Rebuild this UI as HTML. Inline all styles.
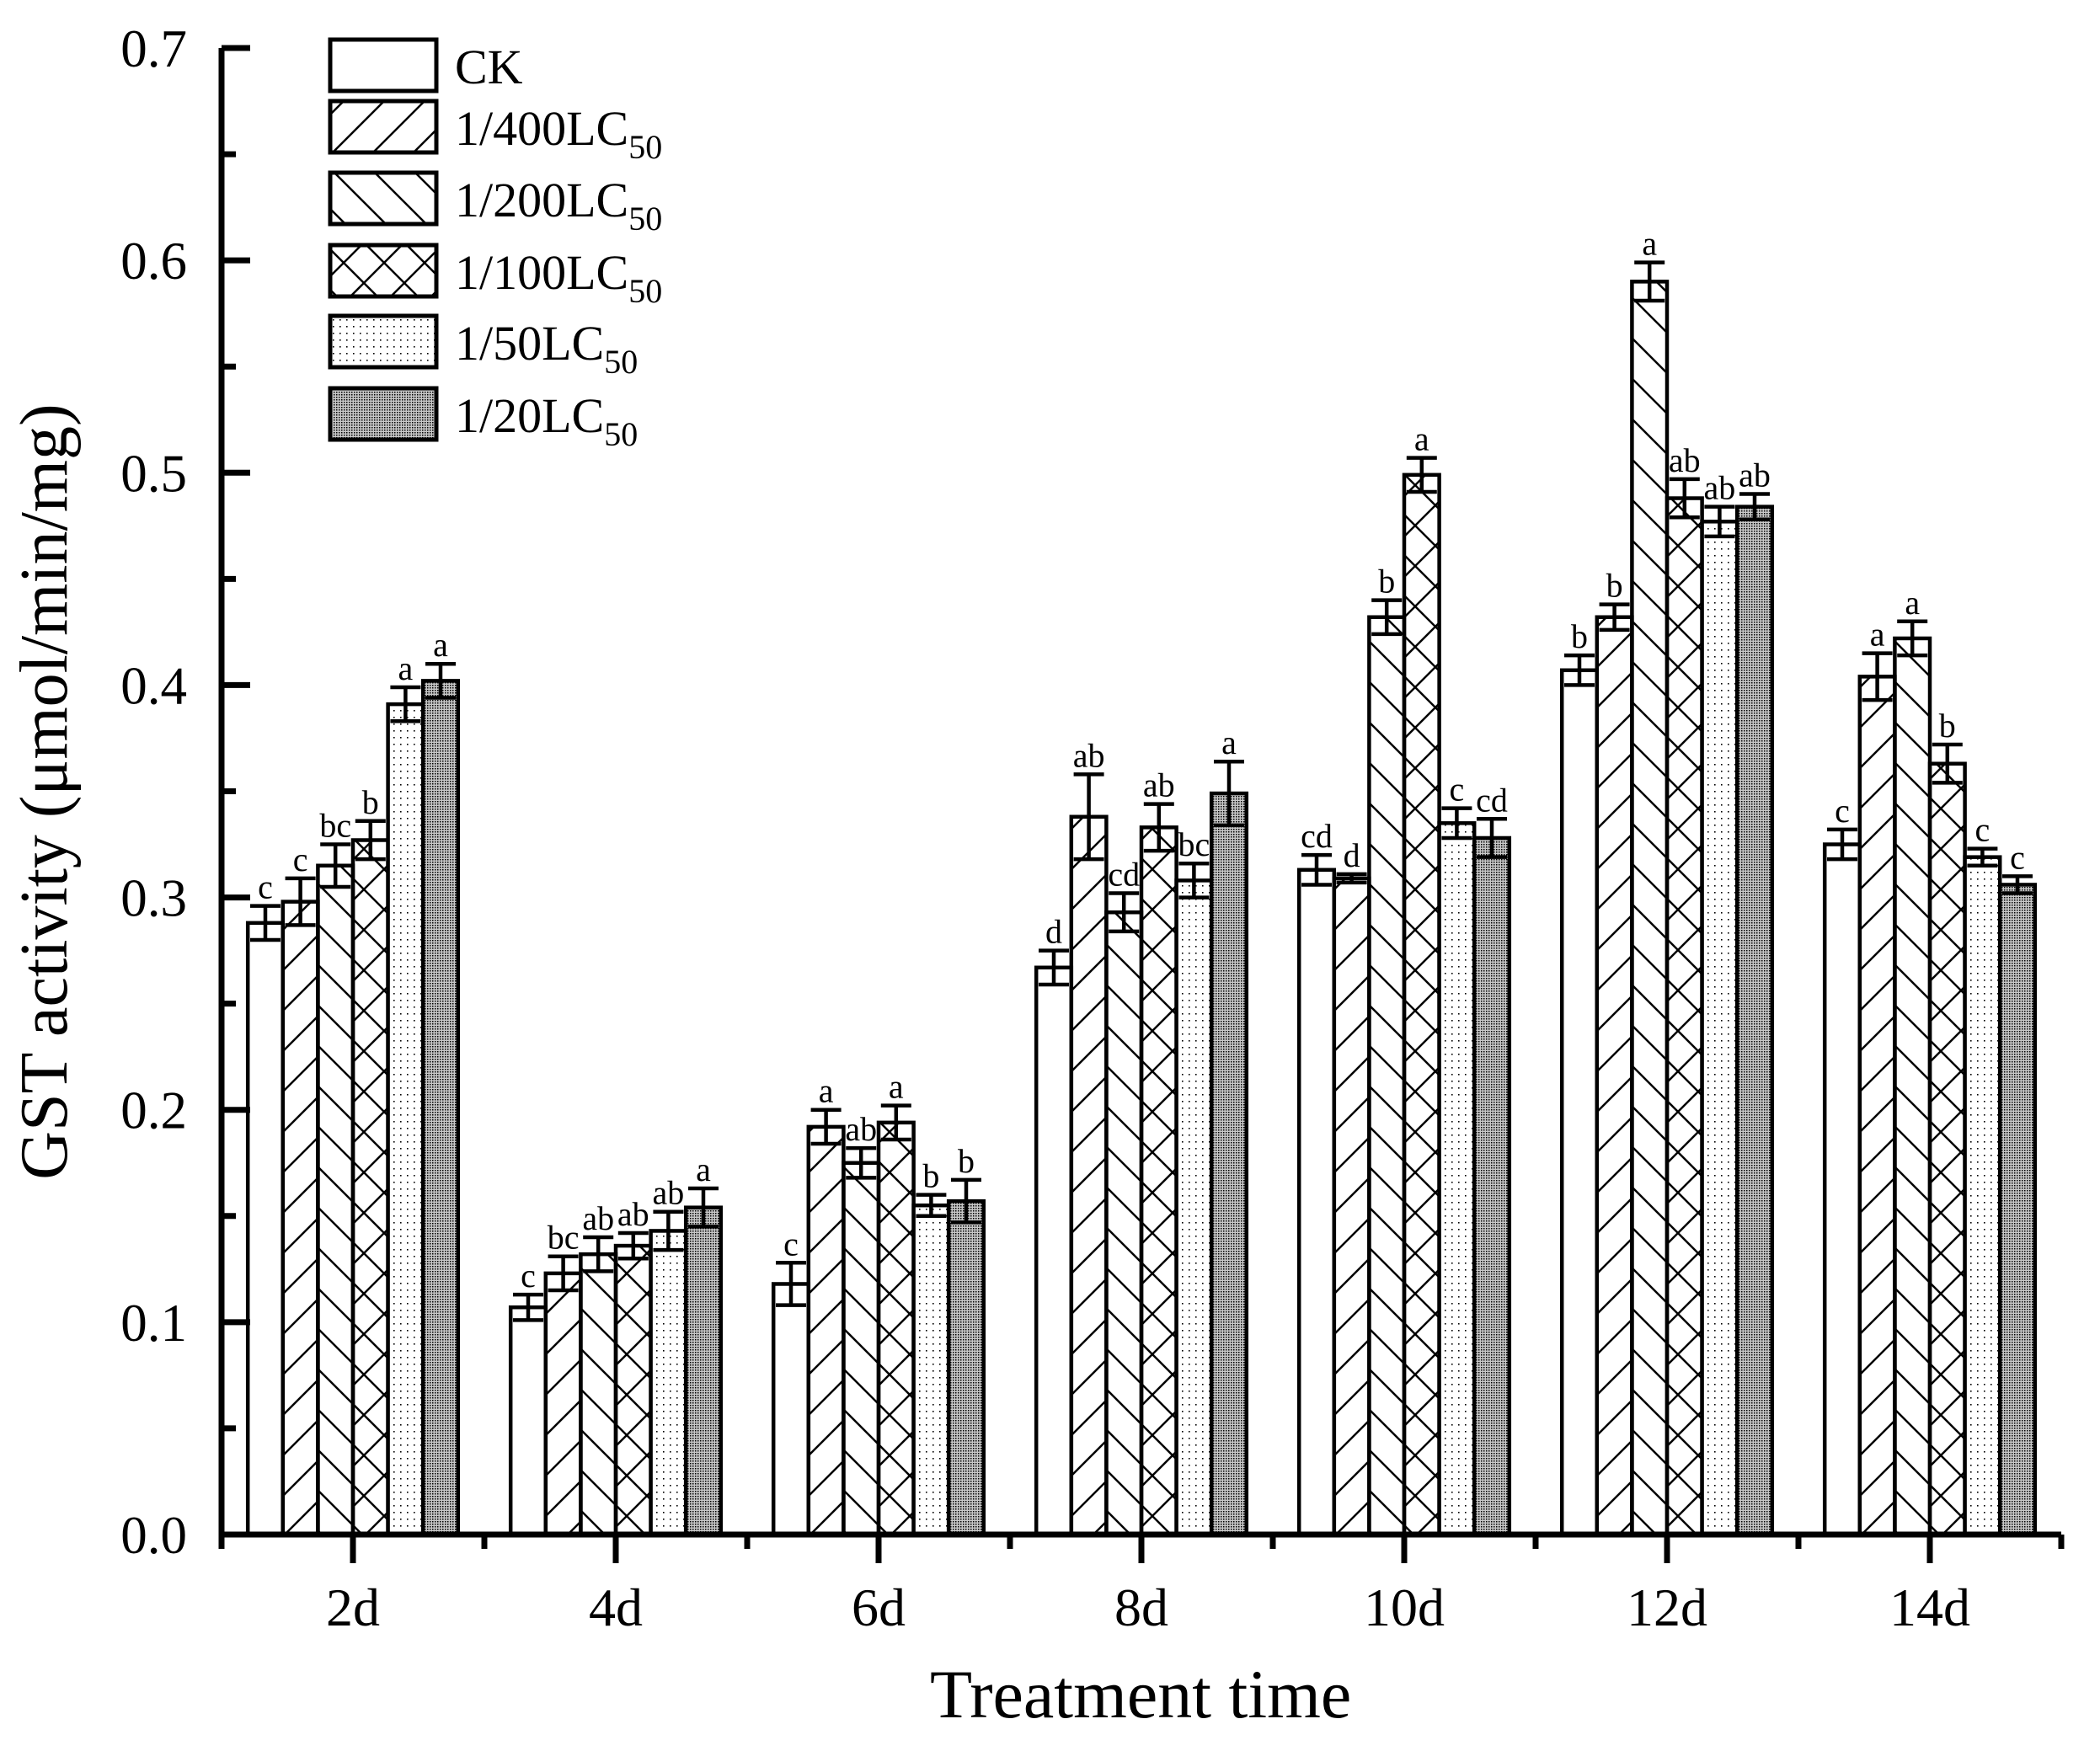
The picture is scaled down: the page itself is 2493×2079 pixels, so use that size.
<!DOCTYPE html>
<html><head><meta charset="utf-8"><style>
html,body{margin:0;padding:0;background:#fff}
svg{display:block;font-family:"Liberation Serif",serif}
</style></head><body>
<svg id="chart" width="2493" height="2079" viewBox="0 0 2493 2079" xmlns="http://www.w3.org/2000/svg">
<defs>
<pattern id="p400" patternUnits="userSpaceOnUse" width="48" height="48"><path d="M-12,12 L12,-12 M0,48 L48,0 M36,60 L60,36" stroke="#000" stroke-width="2.5"/></pattern>
<pattern id="p200" patternUnits="userSpaceOnUse" width="48" height="48"><path d="M-12,36 L12,60 M0,0 L48,48 M36,-12 L60,12" stroke="#000" stroke-width="2.5"/></pattern>
<pattern id="p100" patternUnits="userSpaceOnUse" width="48" height="48"><path d="M-12,12 L12,-12 M0,48 L48,0 M36,60 L60,36 M-12,36 L12,60 M0,0 L48,48 M36,-12 L60,12" stroke="#000" stroke-width="2.5"/></pattern>
<pattern id="p50" patternUnits="userSpaceOnUse" width="8" height="8"><rect width="8" height="8" fill="#fff"/><rect x="3" y="3" width="1.6" height="1.6" fill="#000"/></pattern>
<pattern id="p20" patternUnits="userSpaceOnUse" width="3" height="3"><rect width="3" height="3" fill="#c8c8c8"/><rect x="0" y="0" width="1.5" height="1.5" fill="#000"/></pattern>
</defs>
<g id="bars"></g>
<g id="axes"></g>
<g id="legend"></g>
<text x="1104" y="2039" font-size="82">Treatment time</text>
<text transform="translate(79,940) rotate(-90)" text-anchor="middle" font-size="80">GST activity (μmol/min/mg)</text>
</svg>
<script>
const categories = ["2d","4d","6d","8d","10d","12d","14d"];
const seriesNames = ["CK","1/400LC","1/200LC","1/100LC","1/50LC","1/20LC"];
const seriesSub = ["","50","50","50","50","50"];
const valCK   = [0.288,0.107,0.118,0.267,0.313,0.407,0.325];
const val400  = [0.298,0.123,0.192,0.338,0.309,0.432,0.404];
const val200  = [0.315,0.132,0.175,0.293,0.432,0.590,0.422];
const val100  = [0.327,0.136,0.194,0.333,0.499,0.488,0.363];
const val50   = [0.391,0.143,0.155,0.308,0.335,0.477,0.319];
const val20   = [0.402,0.154,0.157,0.349,0.328,0.484,0.306];
const errCK   = [0.008,0.006,0.010,0.008,0.007,0.007,0.007];
const err400  = [0.011,0.008,0.008,0.020,0.002,0.006,0.011];
const err200  = [0.010,0.008,0.007,0.009,0.008,0.009,0.008];
const err100  = [0.009,0.006,0.008,0.011,0.008,0.009,0.009];
const err50   = [0.008,0.009,0.005,0.008,0.007,0.007,0.004];
const err20   = [0.008,0.009,0.010,0.015,0.009,0.006,0.004];
const letCK   = ["c","c","c","d","cd","b","c"];
const let400  = ["c","bc","a","ab","d","b","a"];
const let200  = ["bc","ab","ab","cd","b","a","a"];
const let100  = ["b","ab","a","ab","a","ab","b"];
const let50   = ["a","ab","b","bc","c","ab","c"];
const let20   = ["a","a","b","a","cd","ab","c"];
const yTicks = ["0.0","0.1","0.2","0.3","0.4","0.5","0.6","0.7"];

const values=[valCK,val400,val200,val100,val50,val20];
const errs=[errCK,err400,err200,err100,err50,err20];
const lets=[letCK,let400,let200,let100,let50,let20];
const fills=["#fff","url(#p400)","url(#p200)","url(#p100)","url(#p50)","url(#p20)"];
const NS="http://www.w3.org/2000/svg";
const X0=263, UNIT=312, Y0=1822, YTOP=57, YMAX=0.7;
function xPos(u){return X0+u*UNIT;}
function yPos(v){return Y0-(v/YMAX)*(Y0-YTOP);}
function mk(tag,attrs,parent){const e=document.createElementNS(NS,tag);for(const k in attrs)e.setAttribute(k,attrs[k]);parent.appendChild(e);return e;}
const bars=document.getElementById('bars'),axes=document.getElementById('axes'),legend=document.getElementById('legend');
const BW=UNIT*0.8/6;
categories.forEach((c,i)=>{
  const gx=xPos(i+0.5)-3*BW;
  for(let s=0;s<6;s++){
    const v=values[s][i],e=errs[s][i];
    const bx=gx+s*BW, cx=bx+BW/2;
    const r=mk('rect',{x:bx,y:yPos(v),width:BW,height:Y0-yPos(v),fill:fills[s],stroke:'#000','stroke-width':4.5},bars);
    
    
    const eb=mk('path',{d:`M${cx-18},${yPos(v+e)}H${cx+18}M${cx-18},${yPos(v-e)}H${cx+18}M${cx},${yPos(v+e)}V${yPos(v-e)}`,stroke:'#000','stroke-width':4.5,fill:'none'},bars);
    
    
    const t=mk('text',{x:cx,y:yPos(v+e)-9,'text-anchor':'middle','font-size':40},bars);
    t.textContent=lets[s][i];
    
    
  }
  const tk=mk('line',{x1:xPos(i+0.5),x2:xPos(i+0.5),y1:Y0,y2:Y0+34,stroke:'#000','stroke-width':7},axes);
  
  
  const lb=mk('text',{x:xPos(i+0.5),y:1930,'text-anchor':'middle','font-size':64},axes);
  lb.textContent=c;
  
  
});
for(let u=0;u<=categories.length;u++){
  const m=mk('line',{x1:xPos(u),x2:xPos(u),y1:Y0,y2:Y0+17,stroke:'#000','stroke-width':7},axes);
  
  
}
yTicks.forEach((t,i)=>{
  const v=parseFloat(t);
  const tk=mk('line',{x1:X0,x2:X0+34,y1:yPos(v),y2:yPos(v),stroke:'#000','stroke-width':7},axes);
  
  
  if(i<yTicks.length-1){
    const m=mk('line',{x1:X0,x2:X0+17,y1:yPos(v+0.05),y2:yPos(v+0.05),stroke:'#000','stroke-width':7},axes);
    
    
  }
  const lb=mk('text',{x:222,y:yPos(v)+22,'text-anchor':'end','font-size':63},axes);
  lb.textContent=t;
  
  
});
const ax=mk('path',{d:`M${X0},${YTOP}V${Y0}H${xPos(categories.length)}`,stroke:'#000','stroke-width':7,fill:'none'},axes);


const boxTops=[47,120,205,291,375,461];
seriesNames.forEach((n,s)=>{
  const y=boxTops[s];
  const r=mk('rect',{x:392,y:y,width:126,height:61,fill:fills[s],stroke:'#000','stroke-width':5},legend);
  
  
  const t=mk('text',{x:540,y:y+52,'font-size':58},legend);
  
  
  t.appendChild(document.createTextNode(n));
  if(seriesSub[s]){const ts=mk('tspan',{'font-size':40,dy:16},t);ts.textContent=seriesSub[s];}
});
</script>
</body></html>
